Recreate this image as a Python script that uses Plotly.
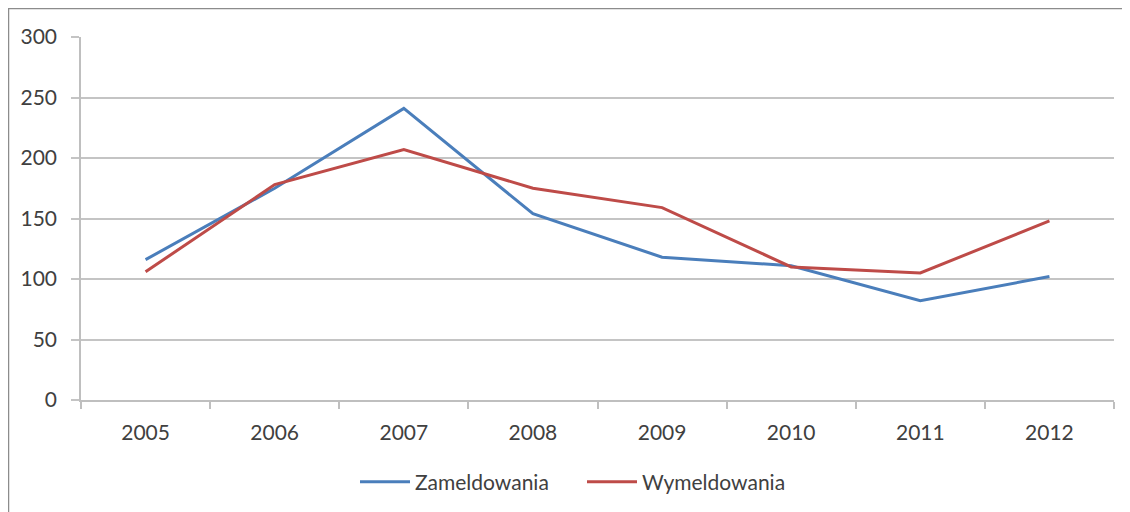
import plotly.graph_objects as go

years = ["2005", "2006", "2007", "2008", "2009", "2010", "2011", "2012"]
zameldowania = [116, 175, 241, 154, 118, 111, 82, 102]
wymeldowania = [106, 178, 207, 175, 159, 110, 105, 148]
y_ticks = [0, 50, 100, 150, 200, 250, 300]

# page has an 8px body margin, so the figure is offset by 8px
OFF = 8
W, H = 1130 - OFF, 512 - OFF
L, R, T, B = 81 - OFF, 1114 - OFF, 37 - OFF, 400 - OFF

fig = go.Figure()
fig.add_trace(go.Scatter(x=years, y=zameldowania, mode="lines", name="Zameldowania",
                         line=dict(color="#4A7EBB", width=3)))
fig.add_trace(go.Scatter(x=years, y=wymeldowania, mode="lines", name="Wymeldowania",
                         line=dict(color="#BE4B48", width=3)))

FAM = "Lato, 'Open Sans', sans-serif"
font = dict(family=FAM, size=21, color="#404040")

fig.update_layout(
    width=W, height=H,
    margin=dict(l=L, r=W - R, t=T, b=H - B, autoexpand=False),
    paper_bgcolor="white", plot_bgcolor="white",
    font=font,
    showlegend=True,
    legend=dict(orientation="h", xref="container", yref="container",
                x=(347) / W, xanchor="left", y=1 - (482 - OFF) / H, yanchor="middle",
                font=font, itemwidth=50, tracegroupgap=0, entrywidth=162,
                bgcolor="rgba(0,0,0,0)"),
    xaxis=dict(type="category", range=[-0.5, 7.5], showgrid=False, automargin=False,
               showline=True, linecolor="#BFBFBF", linewidth=1.5,
               ticks="outside", ticklen=7, tickcolor="#BFBFBF", tickwidth=1.5,
               tickson="boundaries", ticklabelstandoff=13, fixedrange=True),
    yaxis=dict(range=[0, 300], tickvals=y_ticks, showgrid=True, gridcolor="#C4C4C4", gridwidth=1.5,
               automargin=False,
               showline=True, linecolor="#BFBFBF", linewidth=1.5,
               ticks="outside", ticklen=8, tickcolor="#C4C4C4", tickwidth=1.5,
               zeroline=False, ticklabelstandoff=10, fixedrange=True),
)

# outer chart border (at the top-left edge of the figure)
pw, ph = R - L, B - T
fig.add_shape(type="rect", xref="paper", yref="paper",
              x0=(0.5 - L) / pw, x1=(W + 20 - L) / pw,
              y0=(B - H - 20) / ph, y1=(B - 0.5) / ph,
              line=dict(color="#8C8C8C", width=1.5), fillcolor="rgba(0,0,0,0)", layer="below")

fig.write_html("out.html")
